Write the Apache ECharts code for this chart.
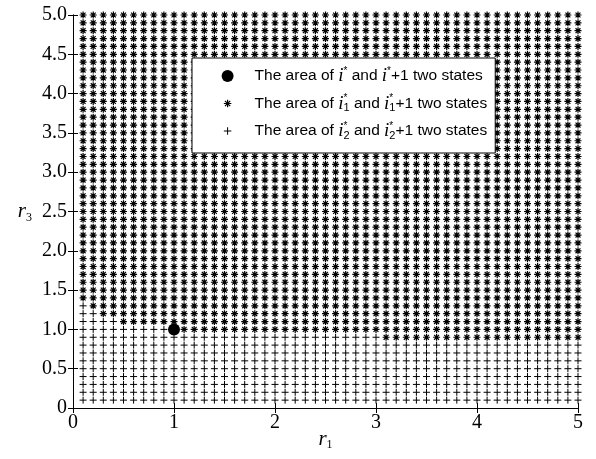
<!DOCTYPE html>
<html>
<head>
<meta charset="utf-8">
<script src="https://cdn.jsdelivr.net/npm/echarts@6/dist/echarts.min.js"></script>
<style>
  html, body { margin: 0; padding: 0; background: #fff; }
  #chart { width: 596px; height: 459px; }
</style>
</head>
<body>
<div id="chart"></div>
<script>
// grid of (r1, r3) points, step 0.1 from 0.1 to 5.0
var gridStep = 0.1;
var gridCount = 50;
// rows where the boundary between "+" and "*" areas lies
// above the last row every point is "*", below the first row every point is "+"
var boundaryRows = [0.9, 1.0, 1.1, 1.2, 1.3];
var starFromX = [3.1, 1.1, 0.5, 0.3, 0.2];
var dotPoint = [[1, 1]];

var starData = [];
var plusData = [];
for (var j = 1; j <= gridCount; j++) {
  var y = +(j * gridStep).toFixed(1);
  var from;
  if (y < boundaryRows[0]) from = Infinity;
  else if (y > boundaryRows[boundaryRows.length - 1]) from = 0;
  else from = starFromX[boundaryRows.indexOf(y)];
  for (var i = 1; i <= gridCount; i++) {
    var x = +(i * gridStep).toFixed(1);
    if (x >= from - 1e-9) starData.push([x, y]);
    else plusData.push([x, y]);
  }
}

var plusPath = 'path://M-1,0L1,0M0,-1L0,1';
var starPath = 'path://M-1,0L1,0M0,-1L0,1M-0.7,-0.7L0.7,0.7M-0.7,0.7L0.7,-0.7';
// legend icons keep invisible corner points so they draw smaller
var plusIcon = 'path://M-1.6,-1.6L-1.6,-1.6M1.6,1.6L1.6,1.6M-1,0L1,0M0,-1L0,1';
var starIcon = 'path://M-1.6,-1.6L-1.6,-1.6M1.6,1.6L1.6,1.6M-1,0L1,0M0,-1L0,1M-0.7,-0.7L0.7,0.7M-0.7,0.7L0.7,-0.7';

var serif = 'Liberation Serif';
var legendRich = {
  t: { fontFamily: 'Liberation Sans', fontSize: 15.5, color: '#000' },
  i: { fontFamily: serif, fontStyle: 'italic', fontSize: 19, color: '#000' },
  sup: { fontFamily: 'Liberation Sans', fontSize: 10, color: '#000', verticalAlign: 'top', width: 0.01, padding: [0, 0, 8, 0] },
  sup2: { fontFamily: 'Liberation Sans', fontSize: 10, color: '#000', verticalAlign: 'top', padding: [0, 0, 8, 0] },
  sub: { fontFamily: 'Liberation Sans', fontSize: 11, color: '#000', verticalAlign: 'bottom', padding: [10, 0, 0, 0] }
};
var legendText = {
  dot: '{t|The area of }{i|i}{sup2|*}{t| and }{i|i}{sup2|*}{t|+1 two states}',
  star: '{t|The area of }{i|i}{sup|*}{sub|1}{t| and }{i|i}{sup|*}{sub|1}{t|+1 two states}',
  plus: '{t|The area of }{i|i}{sup|*}{sub|2}{t| and }{i|i}{sup|*}{sub|2}{t|+1 two states}'
};
var iconStroke = { color: 'transparent', borderColor: '#000', borderWidth: 1.2 };

var chart = echarts.init(document.getElementById('chart'));
chart.setOption({
  animation: false,
  backgroundColor: '#fff',
  grid: { left: 73, right: 18, top: 15, bottom: 51, containLabel: false, outerBoundsMode: 'none' },
  legend: {
    orient: 'vertical',
    left: 192,
    top: 58,
    padding: [8, 8, 12, 29],
    itemGap: 7.5,
    itemWidth: 12,
    itemHeight: 12,
    backgroundColor: '#fff',
    borderColor: '#000',
    borderWidth: 1,
    borderRadius: 0,
    data: [
      { name: 'dot', icon: 'circle', itemStyle: { color: '#000', borderWidth: 0 } },
      { name: 'star', icon: starIcon, itemStyle: iconStroke },
      { name: 'plus', icon: plusIcon, itemStyle: { color: 'transparent', borderColor: '#000', borderWidth: 1 } }
    ],
    formatter: function (name) { return legendText[name]; },
    textStyle: { rich: legendRich, lineHeight: 20, padding: [0, 0, 0, 16] }
  },
  xAxis: [{
    type: 'value', min: 0, max: 5, interval: 1,
    name: '{r|r}{s|1}', nameLocation: 'middle', nameGap: 19, nameMoveOverlap: false,
    nameTextStyle: { rich: {
      r: { fontFamily: serif, fontStyle: 'italic', fontSize: 21, color: '#000' },
      s: { fontFamily: serif, fontSize: 12, color: '#000', verticalAlign: 'bottom', padding: [12, 0, 0, 0] }
    } },
    axisLine: { lineStyle: { color: '#000', width: 1 } },
    axisTick: { inside: true, length: 5, lineStyle: { color: '#000' } },
    axisLabel: { fontFamily: serif, fontSize: 20, color: '#000', margin: 5 },
    splitLine: { show: false }
  }, {
    type: 'value', position: 'top', min: 0, max: 5, interval: 1,
    axisLine: { show: true, lineStyle: { color: '#000', width: 1 } },
    axisTick: { inside: true, length: 5, lineStyle: { color: '#000' } },
    axisLabel: { show: false },
    splitLine: { show: false }
  }],
  yAxis: [{
    type: 'value', min: 0, max: 5, interval: 0.5,
    name: '{r|r}{s|3}', nameLocation: 'middle', nameRotate: 0, nameGap: 41, nameMoveOverlap: false,
    nameTextStyle: { rich: {
      r: { fontFamily: serif, fontStyle: 'italic', fontSize: 21, color: '#000' },
      s: { fontFamily: serif, fontSize: 12, color: '#000', verticalAlign: 'bottom', padding: [12, 0, 0, 0] }
    } },
    axisLine: { show: true, lineStyle: { color: '#000', width: 1 } },
    axisTick: { show: true, inside: true, length: 5, lineStyle: { color: '#000' } },
    axisLabel: {
      fontFamily: serif, fontSize: 20, color: '#000', margin: 6,
      formatter: function (v) { return v === 0 ? '0' : v.toFixed(1); }
    },
    splitLine: { show: false }
  }, {
    type: 'value', position: 'right', min: 0, max: 5, interval: 0.5,
    axisLine: { show: true, lineStyle: { color: '#000', width: 1 } },
    axisTick: { show: true, inside: true, length: 5, lineStyle: { color: '#000' } },
    axisLabel: { show: false },
    splitLine: { show: false }
  }],
  series: [{
    name: 'plus', type: 'scatter', data: plusData,
    symbol: plusPath, symbolSize: 7, silent: true,
    itemStyle: { color: 'transparent', borderColor: '#000', borderWidth: 1, opacity: 1 }
  }, {
    name: 'star', type: 'scatter', data: starData,
    symbol: starPath, symbolSize: 7, silent: true,
    itemStyle: { color: 'transparent', borderColor: '#000', borderWidth: 1.2, opacity: 1 }
  }, {
    name: 'dot', type: 'scatter', data: dotPoint,
    symbol: 'circle', symbolSize: 12, silent: true,
    itemStyle: { color: '#000', opacity: 1 }
  }]
});
</script>
</body>
</html>
